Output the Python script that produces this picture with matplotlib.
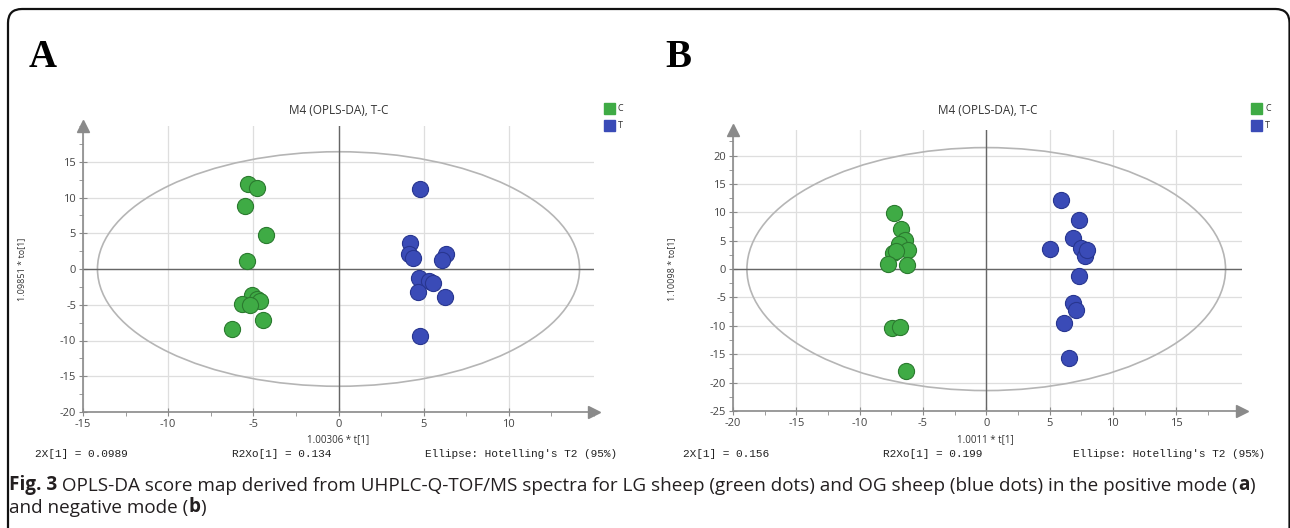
import numpy as np
import matplotlib
matplotlib.use('Agg')
import matplotlib.pyplot as plt
from matplotlib.patches import Ellipse, Rectangle, FancyBboxPatch
from matplotlib.ticker import MultipleLocator
from matplotlib.transforms import IdentityTransform

# Panel A (positive mode)
a_c_x = [-5.33, -4.78, -5.47, -4.27, -5.39, -5.08, -4.80, -4.61, -5.67, -5.22, -4.41, -6.27]
a_c_y = [11.85, 11.33, 8.84, 4.80, 1.08, -3.67, -4.14, -4.51, -4.84, -5.03, -7.10, -8.37]
a_t_x = [4.80, 4.22, 4.12, 4.39, 6.31, 6.06, 4.73, 5.31, 5.55, 4.69, 6.27, 4.80]
a_t_y = [11.14, 3.62, 2.07, 1.55, 2.07, 1.22, -1.32, -1.74, -2.02, -3.24, -3.86, -9.40]

# Panel B (negative mode)
b_c_x = [-7.25, -6.75, -6.44, -6.86, -6.15, -7.38, -7.12, -7.72, -6.28, -7.43, -6.81, -6.36]
b_c_y = [9.82, 7.12, 5.18, 4.41, 3.41, 2.82, 3.12, 0.88, 0.76, -10.35, -10.12, -17.94]
b_t_x = [5.88, 7.36, 6.89, 5.03, 7.51, 7.77, 7.95, 7.36, 6.89, 7.12, 6.14, 6.50]
b_t_y = [12.12, 8.59, 5.53, 3.47, 3.71, 2.35, 3.29, -1.29, -6.06, -7.24, -9.47, -15.65]

# ticks
a_xticks = [-15, -10, -5, 0, 5, 10]
a_yticks = [-20, -15, -10, -5, 0, 5, 10, 15]
b_xticks = [-20, -15, -10, -5, 0, 5, 10, 15]
b_yticks = [-25, -20, -15, -10, -5, 0, 5, 10, 15, 20]

# ellipse half axes (Hotelling's T2 95%)
ell_a = (14.15, 16.4)
ell_b = (18.9, 21.4)

labels = ['C', 'T']
titulo = 'M4 (OPLS-DA), T-C'
xlab_a, ylab_a = '1.00306 * t[1]', '1.09851 * to[1]'
xlab_b, ylab_b = '1.0011 * t[1]', '1.10098 * to[1]'
stats_a = ['2X[1] = 0.0989', 'R2Xo[1] = 0.134', "Ellipse: Hotelling's T2 (95%)"]
stats_b = ['2X[1] = 0.156', 'R2Xo[1] = 0.199', "Ellipse: Hotelling's T2 (95%)"]

verde, verde_borde = '#3fab45', '#2b7a2f'
azul, azul_borde = '#3a4bb7', '#283690'

W, H = 1290, 528
fig = plt.figure(figsize=(W / 100, H / 100), dpi=100)
plt.rcParams['font.family'] = ['Open Sans', 'DejaVu Sans']
plt.rcParams['axes.unicode_minus'] = False


def px(x0, y0, x1, y1):
    # caja en pixeles (origen arriba-izq) -> fraccion de figura
    return [x0 / W, (H - y1) / H, (x1 - x0) / W, (y1 - y0) / H]


def panel(rect, cx, cy, tx, ty, ell, xlim, ylim, xticks, yticks, xlabel_pos, ylabel_pos,
          xlab, ylab, stats, stats_pos, leg_x):
    ax = fig.add_axes(px(*rect))
    ax.set_xlim(*xlim)
    ax.set_ylim(*ylim)
    ax.set_xticks(xticks)
    ax.set_yticks(yticks)
    ax.xaxis.set_minor_locator(MultipleLocator(2.5))
    ax.yaxis.set_minor_locator(MultipleLocator(2.5))
    ax.grid(True, which='major', color='#dedede', lw=0.9)
    ax.set_axisbelow(True)
    for s in ['top', 'right']:
        ax.spines[s].set_visible(False)
    for s in ['left', 'bottom']:
        ax.spines[s].set_color('#8a8a8a')
        ax.spines[s].set_linewidth(1.2)
    ax.tick_params(which='major', direction='inout', length=6, color='#8a8a8a',
                   labelsize=8, labelcolor='#444444', pad=2)
    ax.tick_params(which='minor', direction='out', length=3, color='#8a8a8a')
    ax.plot(1, 0, '>', color='#8a8a8a', ms=8, transform=ax.transAxes, clip_on=False)
    ax.plot(0, 1, '^', color='#8a8a8a', ms=8, transform=ax.transAxes, clip_on=False)
    ax.axhline(0, color='#666666', lw=1)
    ax.axvline(0, color='#666666', lw=1)
    ax.add_patch(Ellipse((0, 0), 2 * ell[0], 2 * ell[1], fill=False,
                         ec='#b5b5b5', lw=1.2))
    ax.scatter(cx, cy, s=135, c=verde, edgecolors=verde_borde, linewidths=0.8, zorder=3)
    ax.scatter(tx, ty, s=135, c=azul, edgecolors=azul_borde, linewidths=0.8, zorder=3)

    x0, x1 = rect[0], rect[2]
    fig.text((x0 + x1) / 2 / W, (H - 111) / H, titulo, ha='center', va='center',
             fontsize=8.5, color='#333333')
    fig.text(xlabel_pos[0] / W, (H - xlabel_pos[1]) / H, xlab, ha='center',
             va='center', fontsize=7, color='#333333')
    fig.text(ylabel_pos[0] / W, (H - ylabel_pos[1]) / H, ylab, ha='center',
             va='center', fontsize=6.5, color='#333333', rotation=90)
    alin = ['left', 'left', 'right']
    for t, sx, al in zip(stats, stats_pos, alin):
        fig.text(sx / W, (H - 454) / H, t, ha=al, va='center', fontsize=8,
                 family='Liberation Mono', color='#222222')
    # leyenda
    for i, (lab, col) in enumerate(zip(labels, [verde, azul])):
        yy = 103 + i * 17
        fig.add_artist(Rectangle((leg_x / W, (H - yy - 11) / H), 11 / W, 11 / H,
                                 transform=fig.transFigure, color=col))
        fig.text((leg_x + 14) / W, (H - yy - 5.5) / H, lab, ha='left', va='center',
                 fontsize=6.5, color='#333333')
    return ax


panel((83, 126, 594, 412), a_c_x, a_c_y, a_t_x, a_t_y, ell_a, (-15, 15), (-20, 20),
      a_xticks, a_yticks, (338, 440), (22, 269), xlab_a, ylab_a, stats_a, (35, 232, 617), 604)
panel((733, 130, 1242, 411), b_c_x, b_c_y, b_t_x, b_t_y, ell_b, (-20, 20.2), (-25, 24.5),
      b_xticks, b_yticks, (985, 440), (672, 269), xlab_b, ylab_b, stats_b, (683, 883, 1265), 1251)

# letras de panel
fig.text(29 / W, (H - 67) / H, 'A', fontsize=28, fontweight='bold',
         family='Liberation Serif', va='baseline')
fig.text(665 / W, (H - 67) / H, 'B', fontsize=28, fontweight='bold',
         family='Liberation Serif', va='baseline')

# marco redondeado
fig.add_artist(FancyBboxPatch((8, -30), 1289.5 - 8, H - 9 + 30,
                              boxstyle='round,pad=0,rounding_size=14',
                              transform=IdentityTransform(), fill=False, ec='#111111', lw=1.6))

# pie de figura
col_txt = '#231f20'
fs = 13.6
t1 = fig.text(9 / W, (H - 490) / H, 'Fig. 3', fontsize=fs, fontweight='bold',
              color=col_txt, va='baseline')
t2 = plt.annotate(' OPLS-DA score map derived from UHPLC-Q-TOF/MS spectra for LG sheep '
                  '(green dots) and OG sheep (blue dots) in the positive mode (',
                  xy=(1, 0), xycoords=t1, va='bottom', fontsize=fs, color=col_txt,
                  annotation_clip=False)
t3 = plt.annotate('a', xy=(1, 0), xycoords=t2, va='bottom', fontsize=fs,
                  fontweight='bold', color=col_txt, annotation_clip=False)
plt.annotate(')', xy=(1, 0), xycoords=t3, va='bottom', fontsize=fs, color=col_txt,
             annotation_clip=False)
t4 = fig.text(9 / W, (H - 513) / H, 'and negative mode (', fontsize=fs,
              color=col_txt, va='baseline')
t5 = plt.annotate('b', xy=(1, 0), xycoords=t4, va='bottom', fontsize=fs,
                  fontweight='bold', color=col_txt, annotation_clip=False)
plt.annotate(')', xy=(1, 0), xycoords=t5, va='bottom', fontsize=fs, color=col_txt,
             annotation_clip=False)

fig.savefig('out.png', dpi=100)
